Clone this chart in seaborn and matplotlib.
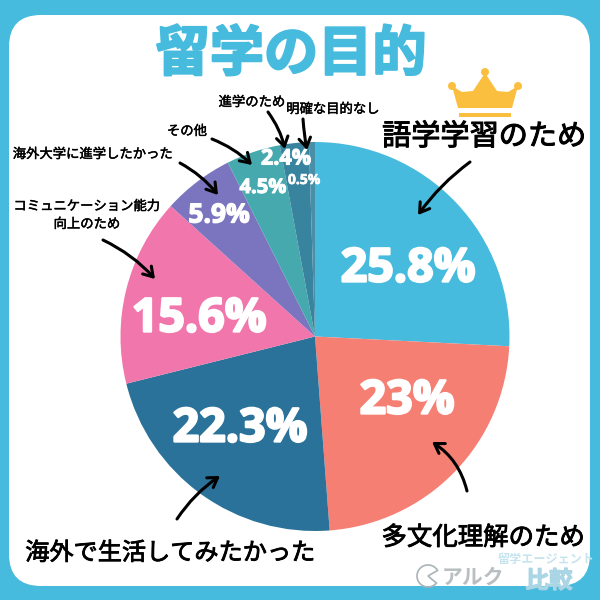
import matplotlib.pyplot as plt
import matplotlib.patheffects as pe
from matplotlib.patches import FancyBboxPatch, Circle, Polygon, Rectangle, Wedge
import seaborn as sns

# pie values, clockwise from 12 o'clock
reasons = ['語学学習のため', '多文化理解のため', '海外で生活してみたかった',
           'コミュニケーション能力\n向上のため', '海外大学に進学したかった',
           'その他', '進学のため', '明確な目的なし']
shares = [25.8, 23, 22.3, 15.6, 5.9, 4.5, 2.4, 0.5]
share_labels = ['25.8%', '23%', '22.3%', '15.6%', '5.9%', '4.5%', '2.4%', '0.5%']
slice_colors = ['#47BBDD', '#F67F73', '#2A7299', '#F176AC', '#7B74BE',
                '#45A9AE', '#38849F', '#4A8FA8']

sns.set_theme(style='white')
plt.rcParams['font.family'] = ['Noto Sans CJK JP', 'DejaVu Sans']

BLUE = '#47BBDD'

fig = plt.figure(figsize=(6, 6), dpi=100, facecolor=BLUE)

# white card behind everything
bg = fig.add_axes([0, 0, 1, 1], zorder=0)
bg.set_xlim(0, 600)
bg.set_ylim(600, 0)
bg.axis('off')
bg.add_patch(FancyBboxPatch((9, 15), 581, 571, boxstyle='round,pad=0,rounding_size=32',
                            fc='white', ec='none'))

ax = fig.add_axes([120.5 / 600, 69 / 600, 389 / 600, 389 / 600], zorder=1)
ax.pie(shares, colors=sns.color_palette(slice_colors), startangle=90, counterclock=False,
       radius=1, wedgeprops={'linewidth': 0})
ax.set_xlim(-1, 1)
ax.set_ylim(-1, 1)

# overlay in pixel coordinates for texts and arrows
top = fig.add_axes([0, 0, 1, 1], zorder=2)
top.set_xlim(0, 600)
top.set_ylim(600, 0)
top.axis('off')
top.patch.set_alpha(0)

# title
top.text(291, 55, '留学の目的', color=BLUE, fontsize=39, fontweight='bold', ha='center', va='center',
         path_effects=[pe.withStroke(linewidth=1.6, foreground=BLUE)])

# percent labels
pct_pos = [(408, 269), (407, 401), (240, 429), (199, 319), (219, 215), (263, 188), (286, 159), (304, 180)]
pct_size = [33.5, 33.5, 33.5, 33.5, 19, 14.5, 15.5, 10]
for s, p, fs in zip(share_labels, pct_pos, pct_size):
    top.text(p[0], p[1], s, color='white', fontsize=fs, fontweight='bold', ha='center', va='center',
             family=['Open Sans', 'DejaVu Sans'],
             path_effects=[pe.withStroke(linewidth=fs * 0.05, foreground='white')])

# slice names
name_pos = [(484, 137, 21), (483, 538, 18.3), (170, 553, 17.4), (87, 215, 9.6),
            (93, 154, 9.6), (187, 131, 9.6), (252, 102, 9.6), (333, 109, 9.6)]
for s, (x, y, fs) in zip(reasons, name_pos):
    top.text(x, y, s, color='black', fontsize=fs, ha='center', va='center', linespacing=1.35,
             path_effects=[pe.withStroke(linewidth=fs * 0.035, foreground='black')])

# hand drawn style arrows: start, end, curve
arrows = [((470, 162), (418, 215), 0.08), ((467, 491), (432, 442), 0.2), ((177, 519), (220, 476), -0.1),
          ((103, 240), (155, 279), -0.1), ((180, 163), (218, 195), -0.1), ((212, 139), (252, 165), -0.1),
          ((268, 112), (285, 149), -0.1), ((303, 119), (307, 150), 0.03)]
for a, b, rad in arrows:
    top.annotate('', xy=b, xytext=a,
                 arrowprops=dict(arrowstyle='->,head_length=0.55,head_width=0.35', color='black', lw=2.2,
                                 connectionstyle=f'arc3,rad={rad}', shrinkA=0, shrinkB=0))

# crown
GOLD = '#FBBF3F'
top.add_patch(Polygon([(458, 108), (452, 86), (462, 92), (473, 91), (485, 73), (497, 91),
                       (508, 92), (518, 86), (512, 108)], fc=GOLD, ec='none'))
for cx, cy, r in [(452, 86, 4), (485, 72, 4), (518, 86, 4)]:
    top.add_patch(Circle((cx, cy), r, fc=GOLD, ec='none'))
top.add_patch(Rectangle((459, 113), 52, 3.5, fc=GOLD, ec='none'))

# watermark
top.add_patch(Wedge((428, 576), 11, 40, 330, fc='none', ec='#A9B3B8', lw=1.2))
top.text(473, 577, 'アルク', color='#B9BEC1', fontsize=15, fontweight='bold', ha='center', va='center')
top.text(546, 560, '留学エージェント', color='#C5E4EE', fontsize=8.7, fontweight='bold', ha='center', va='center')
top.text(549, 581, '比較', color='#A9D5E4', fontsize=17, fontweight='bold', ha='center', va='center',
         path_effects=[pe.withStroke(linewidth=0.8, foreground='#A9D5E4')])

fig.savefig('out.png', dpi=100)
